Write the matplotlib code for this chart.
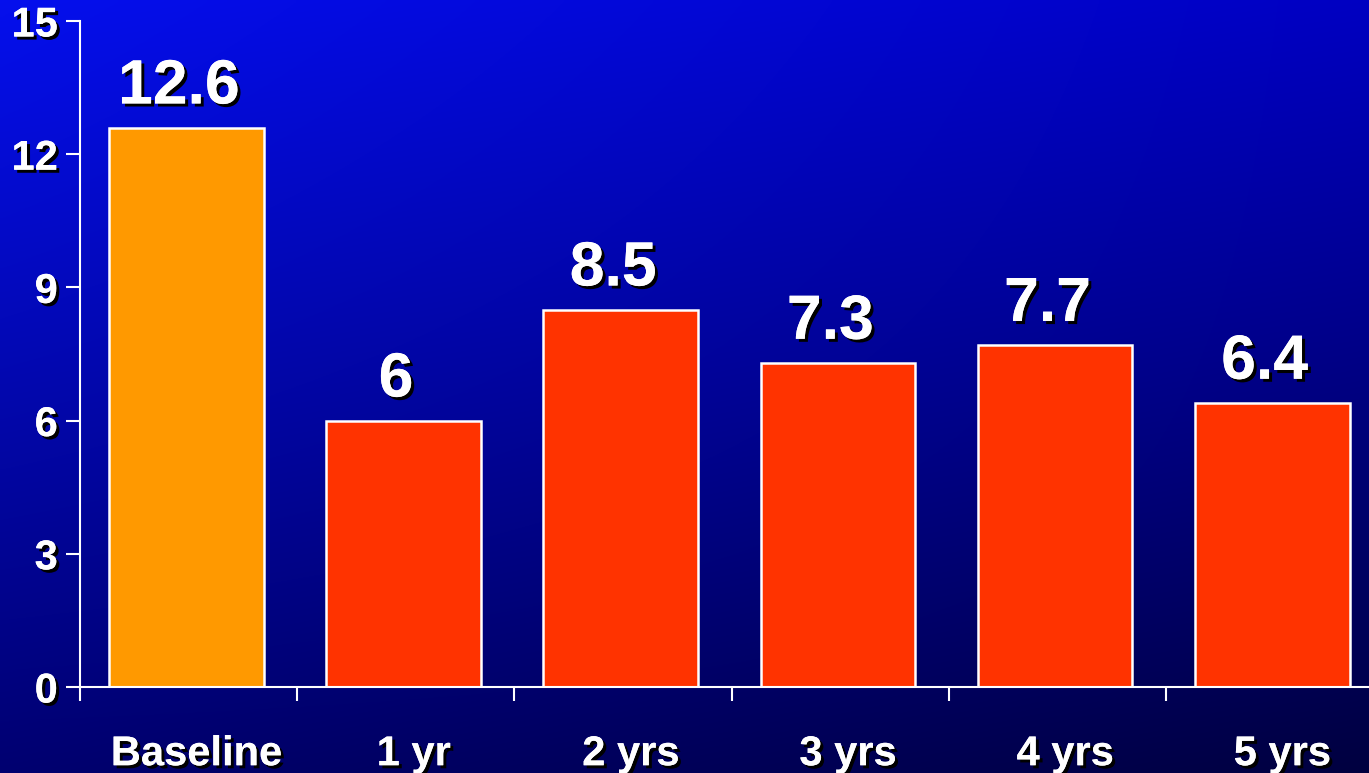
import numpy as np
import matplotlib.pyplot as plt
import matplotlib.patheffects as pe
import matplotlib.transforms as mtransforms
from matplotlib.ticker import FixedLocator

categories = ["Baseline", "1 yr", "2 yrs", "3 yrs", "4 yrs", "5 yrs"]
values = [12.6, 6, 8.5, 7.3, 7.7, 6.4]
bar_colors = ["#FF9900", "#FF3300", "#FF3300", "#FF3300", "#FF3300", "#FF3300"]
y_ticks = [0, 3, 6, 9, 12, 15]

plt.rcParams['font.family'] = ['Liberation Sans', 'DejaVu Sans']
plt.rcParams['font.weight'] = 'bold'

fig = plt.figure(figsize=(13.69, 7.73), dpi=100)

# blue backdrop, bright top-left fading to navy bottom-right
bg = fig.add_axes([0, 0, 1, 1])
bg.set_axis_off()
ny, nx = 200, 350
yy, xx = np.mgrid[0:1:ny * 1j, 0:1:nx * 1j]
tl = np.array([0.02, 0.06, 0.93])
tr = np.array([0.00, 0.00, 0.76])
bl = np.array([0.00, 0.00, 0.44])
br = np.array([0.00, 0.00, 0.25])
grad = ((1 - xx)[..., None] * (1 - yy)[..., None] * tl
        + xx[..., None] * (1 - yy)[..., None] * tr
        + (1 - xx)[..., None] * yy[..., None] * bl
        + xx[..., None] * yy[..., None] * br)
bg.imshow(grad, aspect='auto', extent=[0, 1, 0, 1], interpolation='bilinear')

ax = fig.add_axes([80 / 1369, 86 / 773, 1303 / 1369, 666 / 773])
ax.set_facecolor('none')

shadow = [pe.withSimplePatchShadow(offset=(2.2, -2.2), shadow_rgbFace='black', alpha=1.0),
          pe.Normal()]

x = np.arange(len(categories))
bars = ax.bar(x - 0.01, values, width=0.712, color=bar_colors, edgecolor='white', linewidth=1.8)

for xi, v in zip(x, values):
    ax.annotate(f"{v:g}", (xi, v), xytext=(-7, 8), textcoords='offset points',
                ha='center', va='bottom', fontsize=45, fontweight='bold',
                color='white', path_effects=shadow)

ax.set_xlim(-0.5, len(categories) - 0.5)
ax.set_ylim(0, 15)

for side in ['top', 'right']:
    ax.spines[side].set_visible(False)
for side in ['left', 'bottom']:
    ax.spines[side].set_color('white')
    ax.spines[side].set_linewidth(1.5)

ax.set_yticks(y_ticks)
ax.tick_params(axis='y', colors='white', direction='out', length=10, width=1.5,
               pad=6, labelsize=30)
ax.set_xticks(x)
ax.set_xticklabels(categories)
ax.xaxis.set_minor_locator(FixedLocator(np.arange(-0.5, len(categories), 1.0)))
ax.tick_params(axis='x', which='major', length=0, pad=34, labelsize=30, colors='white')
ax.tick_params(axis='x', which='minor', length=10, width=1.5, color='white', direction='out')

# category names sit a little right of the bar centres
nudge = mtransforms.ScaledTranslation(8 / 100, 0, fig.dpi_scale_trans)
for lab in ax.get_xticklabels():
    lab.set_transform(lab.get_transform() + nudge)

for lab in ax.get_xticklabels() + ax.get_yticklabels():
    lab.set_fontweight('bold')
    lab.set_path_effects(shadow)

fig.savefig('out.png', dpi=100)
